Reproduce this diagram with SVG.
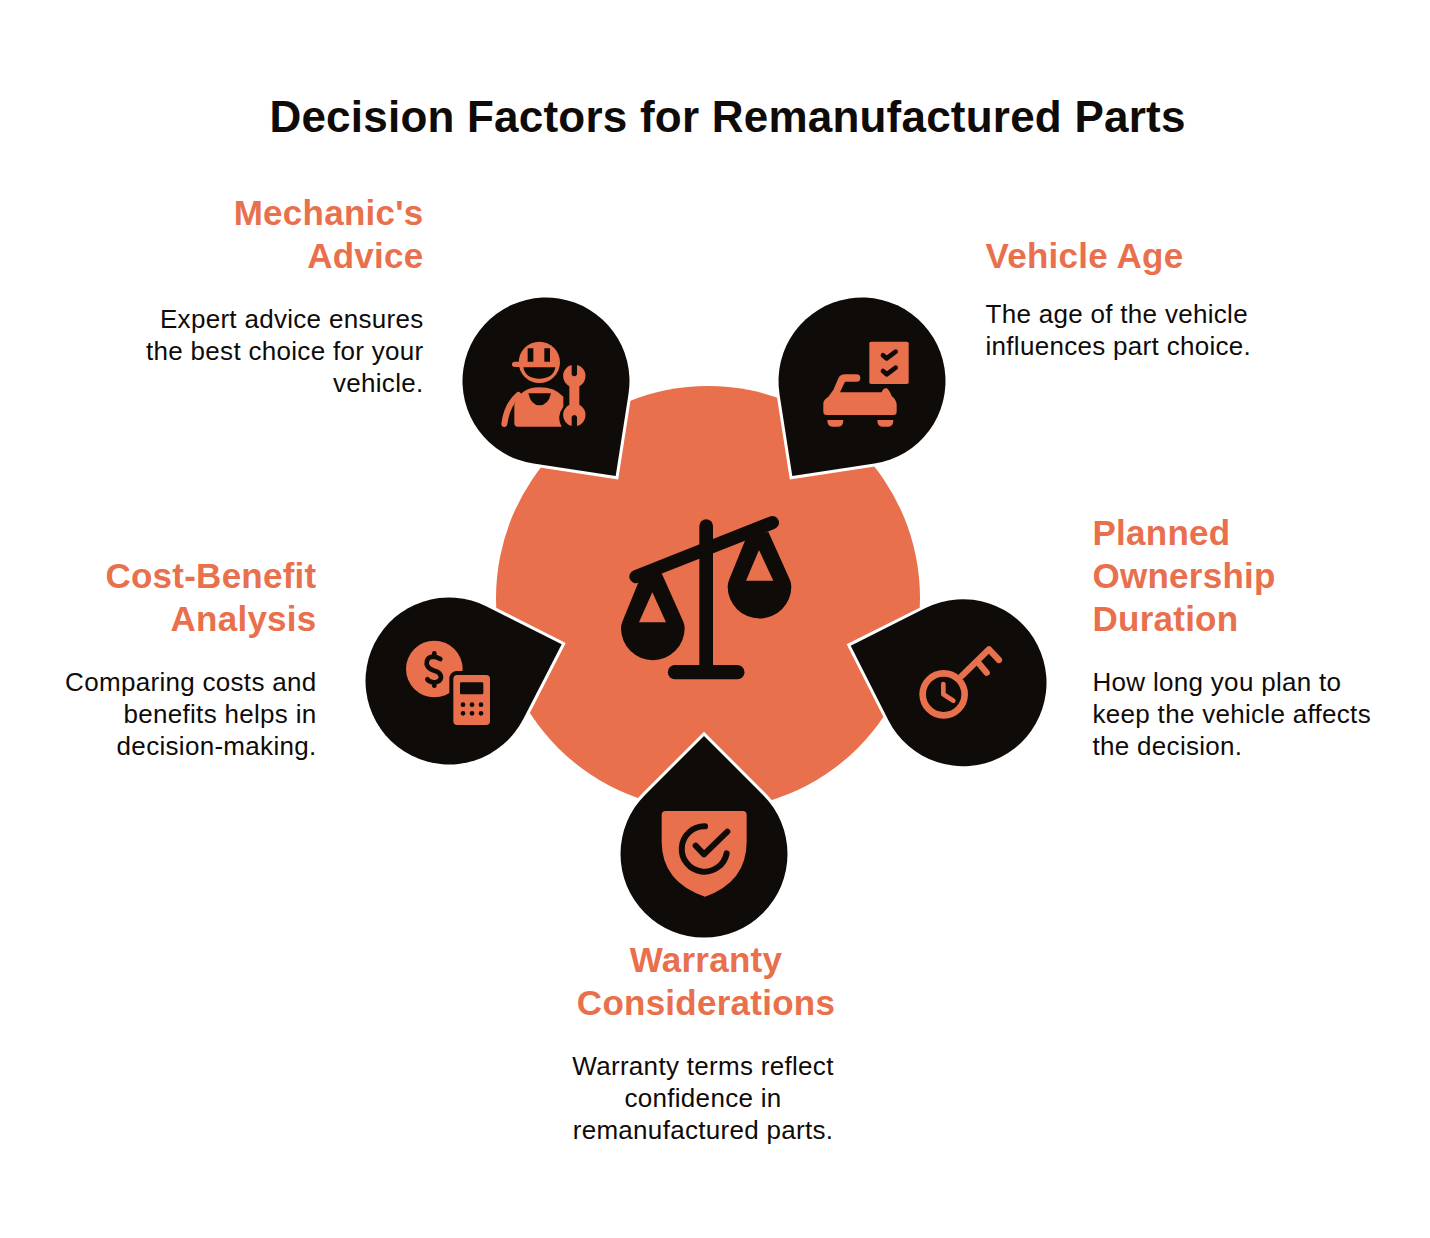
<svg xmlns="http://www.w3.org/2000/svg" width="1430" height="1238" viewBox="0 0 1430 1238">
<style>
text{font-family:"Liberation Sans",Arial,sans-serif}
.title{font-size:44px;font-weight:700;fill:#0f0b08;letter-spacing:.22px}
.head{font-size:35px;font-weight:700;fill:#e9704d;letter-spacing:.25px}
.body{font-size:26px;fill:#0f0b08;letter-spacing:.3px}
.e{text-anchor:end}.m{text-anchor:middle}
.drop{fill:#0f0b08;stroke:#fff;stroke-width:6;paint-order:stroke;stroke-miterlimit:10}
.o{fill:#e9704d}.k{fill:#0f0b08}
.so{fill:none;stroke:#e9704d;stroke-linecap:round;stroke-linejoin:round}
.sk{fill:none;stroke:#0f0b08;stroke-linecap:round;stroke-linejoin:round}
</style>
<rect width="1430" height="1238" fill="#fff"/>
<text class="title m" x="727.500" y="132">Decision Factors for Remanufactured Parts</text>
<g id="center">
<circle class="o" cx="708" cy="598" r="212"/>
<g transform="translate(610 505) scale(.33333)">
<path class="k" fill-rule="evenodd" d="M88 225L37 350Q33 360 33 370A95.500 95.500 0 0 0 224 370Q224 360 220 350L155 205ZM127 262L168 352H87Z"/>
<path class="k" fill-rule="evenodd" d="M408 100L357 225Q353 235 353 245A95.500 95.500 0 0 0 544 245Q544 235 540 225L475 80ZM447 135L490 227H408Z"/>
<path class="sk" stroke-width="40" d="M78 215L487 53"/>
<path class="sk" stroke-width="41" d="M288.500 63V490"/>
<path class="sk" stroke-width="43" d="M195 501.500H382"/>
</g>
</g>
<g id="mechanic">
<path class="drop" d="M533.500 463.600A83.500 83.500 0 1 1 628.500 393.900L615.700 476Z"/>
<g transform="translate(450 290) scale(.33333)">
<circle class="o" cx="268" cy="217" r="62"/>
<path class="so" stroke-width="16" d="M194 223H240"/>
<path class="k" d="M220 232H316Q310 266 268 266Q226 266 220 232Z"/>
<path class="k" d="M233 175H250V215H233ZM283 175H300V215H283Z"/>
<path class="o" d="M193 400V345Q210 292 268 292Q315 292 340 320V350Q318 380 335 410H203Q193 410 193 400Z"/>
<path class="so" stroke-width="18" d="M163 402Q170 345 205 315"/>
<path class="k" d="M235 310H303Q295 346 268 346Q243 346 235 310Z"/>
<circle class="o" cx="373" cy="258" r="33.500"/>
<circle class="o" cx="373" cy="375" r="33.500"/>
<rect class="o" x="358" y="258" width="30" height="117"/>
<path class="k" d="M365 220H381V254Q373 264 365 254ZM365 414H381V380Q373 370 365 380Z"/>
</g>
</g>
<g id="vehicle-age">
<path class="drop" d="M779.500 393.900A83.500 83.500 0 1 1 874.500 463.600L792.300 476Z"/>
<g transform="translate(765 290) scale(.33333)">
<rect class="o" x="313" y="155" width="118" height="127" rx="5"/>
<path class="sk" stroke-width="14" d="M354 196L365 205L392 185M354 243L365 253L392 233"/>
<path class="o" d="M175 340Q175 330 190 320L205 300L220 265Q225 253 240 253H275A11 11 0 0 1 275 275H240L225 307H350Q355 293 365 295Q372 298 380 318Q395 330 395 345V365Q395 375 385 375H185Q175 375 175 365Z"/>
<path class="o" d="M187 390H235Q235 410 220 410H202Q187 410 187 390ZM337 390H385Q385 410 370 410H352Q337 410 337 390Z"/>
</g>
</g>
<g id="cost-benefit">
<path class="drop" d="M486.600 606.400L561.700 644.300L523.300 719.100A83.500 83.500 0 1 1 486.600 606.400Z"/>
<g transform="translate(355 585) scale(.33333)">
<circle class="o" cx="238" cy="252" r="85"/>
<path class="sk" stroke-width="14" d="M256 222Q245 215 232 215Q213 218 215 238Q220 253 238 257Q258 262 258 278Q255 292 235 292Q222 290 217 283M238 205V215M238 292V302"/>
<rect class="k" x="283" y="258" width="134" height="174" rx="22"/>
<rect class="o" x="295" y="270" width="110" height="150" rx="12"/>
<rect class="k" x="315" y="292" width="70" height="36" rx="4"/>
<g class="k"><circle cx="324" cy="359" r="7"/><circle cx="351" cy="359" r="7"/><circle cx="378" cy="359" r="7"/><circle cx="324" cy="385" r="7"/><circle cx="351" cy="385" r="7"/><circle cx="378" cy="385" r="7"/></g>
</g>
</g>
<g id="ownership">
<path class="drop" d="M925.500 608.100A83.500 83.500 0 1 1 888.500 720.400L850.700 645.700Z"/>
<g transform="translate(840 590) scale(.33333)">
<circle class="so" cx="311" cy="313" r="63" stroke-width="20"/>
<path class="so" stroke-width="14" d="M310 282V313L340 332"/>
<path class="so" stroke-width="19" d="M365 258L447 178L477 210M415 218L440 248"/>
</g>
</g>
<g id="warranty">
<path class="drop" d="M645 794.900L704 736L763 794.900A83.500 83.500 0 1 1 645 794.900Z"/>
<g transform="translate(610 725) scale(.33333)">
<path class="o" d="M155 270Q155 258 167 258H398Q410 258 410 270V350Q410 470 285 515Q155 470 155 350Z"/>
<path class="sk" stroke-width="18" d="M285 304A68 68 0 1 0 350 385"/>
<path class="sk" stroke-width="18" d="M257 362L282 388L352 320"/>
</g>
</g>
<g id="labels">
<text class="head e" x="423.500" y="225">Mechanic's</text>
<text class="head e" x="423.500" y="268">Advice</text>
<text class="body e" x="423.500" y="328">Expert advice ensures</text>
<text class="body e" x="423.500" y="360">the best choice for your</text>
<text class="body e" x="423.500" y="392">vehicle.</text>
<text class="head" x="985.500" y="268">Vehicle Age</text>
<text class="body" x="985.500" y="323">The age of the vehicle</text>
<text class="body" x="985.500" y="355">influences part choice.</text>
<text class="head" x="1092.500" y="545">Planned</text>
<text class="head" x="1092.500" y="588">Ownership</text>
<text class="head" x="1092.500" y="631">Duration</text>
<text class="body" x="1092.500" y="691">How long you plan to</text>
<text class="body" x="1092.500" y="723">keep the vehicle affects</text>
<text class="body" x="1092.500" y="755">the decision.</text>
<text class="head e" x="316.500" y="588">Cost-Benefit</text>
<text class="head e" x="316.500" y="631">Analysis</text>
<text class="body e" x="316.500" y="691">Comparing costs and</text>
<text class="body e" x="316.500" y="723">benefits helps in</text>
<text class="body e" x="316.500" y="755">decision-making.</text>
<text class="head m" x="706" y="972">Warranty</text>
<text class="head m" x="706" y="1015">Considerations</text>
<text class="body m" x="703" y="1075">Warranty terms reflect</text>
<text class="body m" x="703" y="1107">confidence in</text>
<text class="body m" x="703" y="1139">remanufactured parts.</text>
</g>
</svg>
